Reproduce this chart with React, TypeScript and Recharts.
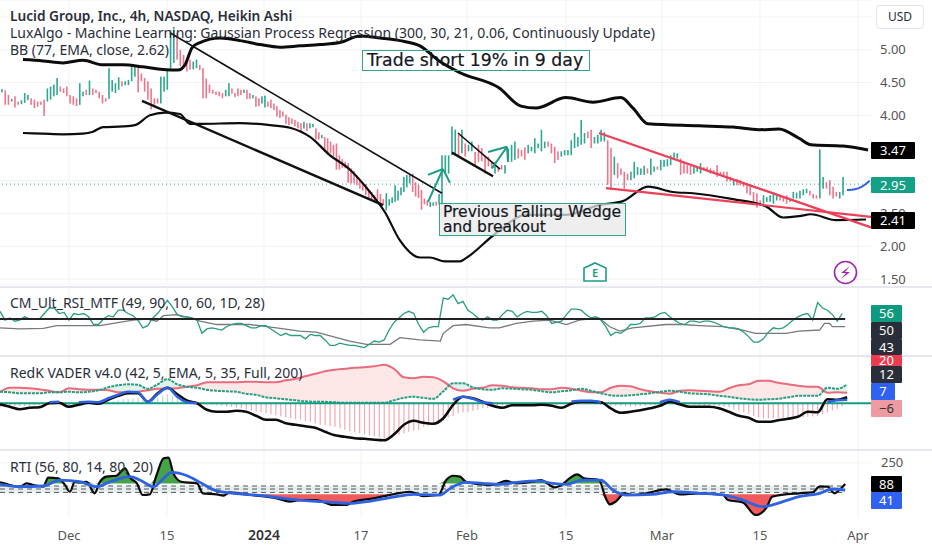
import { ComposedChart, Line, Bar, Area, XAxis, YAxis, CartesianGrid, ReferenceLine, ReferenceArea } from 'recharts';

// time axis is in trading days counted from 1 Dec
const DAY_MIN = -7.0;
const DAY_MAX = 81.42;
const timeTicks = [0, 9.95, 19.8, 29.65, 40.4, 50.45, 60.2, 70.15, 80.1];
const timeLabels = ['Dec', '15', '2024', '17', 'Feb', '15', 'Mar', '15', 'Apr'];
const priceTicks = [1.5, 2, 2.5, 3, 3.5, 4, 4.5, 5, 5.5];
const hiddenPriceLabels = [3, 3.5, 5.5]; // sit behind the price tags or the USD button

const barOpen = [
  4.35,4.38,4.31,4.21,4.29,4.21,4.17,4.19,4.23,4.26,
  4.24,4.21,4.21,4.24,4.21,4.24,4.29,4.31,4.44,4.41,
  4.44,4.31,4.29,4.26,4.16,4.29,4.39,4.31,4.41,4.39,
  4.36,4.31,4.26,4.25,4.36,4.34,4.39,4.52,4.46,4.46,
  4.52,4.59,4.75,4.64,4.57,4.52,4.41,4.26,4.26,4.18,
  4.36,4.39,4.70,4.80,5.26,5.00,4.92,4.80,4.85,4.70,
  4.72,4.77,4.72,4.56,4.47,4.39,4.36,4.36,4.34,4.29,
  4.29,4.41,4.34,4.41,4.39,4.34,4.39,4.34,4.26,4.29,
  4.26,4.18,4.12,4.21,4.24,4.18,4.14,4.08,4.06,4.01,
  3.97,3.95,3.93,3.90,3.88,3.80,3.88,3.80,3.82,3.80,
  3.74,3.65,3.67,3.65,3.60,3.55,3.57,3.39,3.33,3.29,
  3.27,3.19,3.15,3.08,3.01,2.96,2.95,2.86,2.83,2.78,
  2.87,2.80,2.72,2.55,2.62,2.66,2.68,2.70,2.78,2.83,
  2.90,2.96,3.11,2.98,2.94,2.86,2.73,2.70,2.60,2.62,
  2.68,2.64,2.63,3.11,3.11,3.39,3.39,3.70,3.42,3.57,
  3.45,3.45,3.44,3.55,3.50,3.39,3.37,3.29,3.11,3.21,
  3.24,3.11,3.29,3.29,3.32,3.49,3.47,3.51,3.42,3.45,
  3.42,3.50,3.45,3.50,3.60,3.57,3.52,3.45,3.37,3.39,
  3.39,3.39,3.50,3.52,3.55,3.57,3.75,3.78,3.57,3.57,
  3.60,3.60,3.62,3.50,3.09,3.27,3.19,3.14,3.11,3.01,
  3.04,3.09,3.09,3.09,3.19,3.09,3.14,3.22,3.16,3.21,
  3.22,3.24,3.32,3.34,3.34,3.27,3.24,3.23,3.11,3.14,
  3.11,3.21,3.21,3.19,3.16,3.24,3.14,3.14,3.14,3.06,
  2.93,3.03,3.01,2.98,2.96,2.93,2.83,2.81,2.70,2.65,
  2.68,2.68,2.65,2.70,2.78,2.76,2.78,2.68,2.73,2.73,
  2.73,2.78,2.81,2.85,2.80,2.78,2.73,2.88,2.98,3.01,
  2.91,2.83,2.73,2.78,
];
const barClose = [
  4.40,4.16,4.16,4.25,4.12,4.16,4.23,4.34,4.31,4.16,
  4.11,4.13,4.16,3.99,4.41,4.44,4.47,4.57,4.36,4.34,
  4.29,4.18,4.16,4.14,4.49,4.36,4.31,4.53,4.31,4.34,
  4.26,4.18,4.21,4.72,4.54,4.49,4.58,4.44,4.52,4.54,
  4.76,4.75,4.35,4.52,4.36,4.24,4.09,4.16,4.18,4.59,
  4.59,4.69,5.30,5.31,4.85,4.75,4.75,4.67,4.70,4.82,
  4.85,4.69,4.26,4.26,4.34,4.33,4.31,4.29,4.26,4.39,
  4.49,4.33,4.28,4.29,4.31,4.39,4.25,4.25,4.31,4.13,
  4.14,4.29,4.30,4.13,4.11,4.08,3.98,3.96,3.98,3.87,
  3.85,3.87,3.83,3.80,3.75,3.90,3.76,3.88,3.87,3.63,
  3.63,3.70,3.45,3.40,3.42,3.37,3.17,3.17,3.20,3.19,
  2.97,2.96,2.96,2.93,2.88,2.85,2.78,2.73,2.70,2.68,
  2.71,2.66,2.63,2.81,2.72,2.75,2.93,2.85,2.90,3.06,
  3.09,3.09,2.83,2.76,2.74,2.56,2.64,2.62,2.68,2.67,
  2.62,2.80,3.39,3.39,3.39,3.83,3.78,3.37,3.78,3.37,
  3.55,3.60,3.22,3.29,3.30,3.11,3.22,3.19,3.29,3.14,
  3.17,3.24,3.49,3.55,3.60,3.34,3.37,3.32,3.55,3.52,
  3.65,3.57,3.78,3.60,3.52,3.42,3.27,3.32,3.45,3.47,
  3.47,3.62,3.73,3.67,3.93,3.73,3.65,3.50,3.67,3.70,
  3.78,3.74,2.94,2.86,3.37,3.04,3.09,2.88,3.01,3.14,
  3.29,3.21,3.19,3.23,3.11,3.34,3.22,3.17,3.32,3.32,
  3.33,3.39,3.43,3.42,3.09,3.11,3.11,3.09,3.21,3.21,
  3.27,3.16,3.14,3.11,3.11,3.06,3.09,3.08,2.99,2.99,
  3.01,2.93,2.93,2.91,2.81,2.78,2.68,2.59,2.63,2.78,
  2.75,2.78,2.82,2.78,2.70,2.68,2.65,2.73,2.83,2.82,
  2.85,2.87,2.88,2.78,2.73,2.73,3.48,3.06,2.88,2.78,
  2.73,2.76,2.83,3.06,
];
// bar number -> day, where the session spacing is known
const barAnchorIndex = [0, 70, 99, 142, 263];
const barAnchorDay = [-6.8, 16.24, 25.07, 37.87, 78.58];

const upperDays = [-4.67,-2.64,-0.61,1.42,3.45,5.48,7.51,9.54,11.07,11.78,12.49,13.3,15.33,17.36,19.39,21.42,23.45,25.48,27.51,29.54,31.57,33.6,35.63,37.66,39.7,43.65,45.89,47.41,50.46,53.2,56.04,57.26,58.78,63.96,67.41,70.05,72.08,74.11,75.33,78.58,81.12];
const upperBand = [4.85,4.83,4.80,4.84,4.77,4.77,4.74,4.70,4.69,4.77,5.03,5.11,5.18,5.14,5.08,5.04,5.06,5.08,5.11,5.21,5.18,5.14,5.06,4.82,4.65,4.42,4.14,4.11,4.27,4.20,4.27,4.11,3.87,3.84,3.82,3.78,3.79,3.65,3.55,3.53,3.47];
const lowerDays = [-4.67,-2.64,-0.61,1.42,2.44,3.45,5.48,6.7,8.22,9.75,11.27,12.28,13.3,17.36,20.41,22.44,24.47,26.5,28.53,30.56,32.08,33.6,35.63,36.65,38.17,39.7,40.3,43.35,46.4,50.46,53.81,56.24,58.78,61.32,63.35,67.41,70.76,72.49,74.11,75.33,77.87,80.91];
const lowerBand = [3.73,3.72,3.71,3.72,3.75,3.82,3.83,3.85,4.00,4.04,4.02,3.87,3.87,3.88,3.85,3.81,3.67,3.39,3.17,2.83,2.52,2.09,1.83,1.83,1.77,1.77,1.82,2.20,2.48,2.48,2.63,2.69,2.91,2.83,2.81,2.72,2.61,2.44,2.46,2.49,2.40,2.41];
const forecastDays = [78.98, 79.8, 80.5, 81.3];
const forecast = [2.86, 2.87, 2.91, 3.0];
const lastPrice = 2.95;

// drawings on the price pane: [day, price] pairs
const blackThin = [[[10.25,5.26],[37.87,2.81]], [[39.49,3.73],[43.76,3.18]]];
const blackThick = [[[7.41,4.22],[31.88,2.63]], [[38.88,3.43],[43.05,3.07]]];
const redLines = [[[53.81,3.73],[81.42,2.29]], [[54.52,2.89],[81.42,2.45]]];
const tealArrows = [
  [[36.45,2.68],[37.97,3.18]], [[36.45,3.09],[37.97,3.18]], [[37.97,3.18],[38.68,2.97]],
  [[42.94,3.19],[44.47,3.52]], [[42.54,3.44],[44.47,3.52]], [[44.47,3.52],[44.57,3.29]],
];

// RSI, one reading every half day from day -7
const rsiValues = [
  57,49,51,48,49,52,50,50,50,55,60,60,55,56,49,55,54,55,52,45,
  45,50,53,52,58,58,55,53,49,42,44,51,55,61,67,61,54,52,52,51,
  49,37,41,42,41,40,43,45,46,46,44,42,42,44,44,41,38,35,37,35,
  35,35,32,36,35,35,31,26,26,28,27,26,26,25,24,27,30,29,31,40,
  47,51,55,57,55,45,38,42,43,43,69,68,72,64,66,
  58,55,51,49,52,49,49,54,58,57,52,55,57,56,56,57,53,46,47,48,
  54,59,59,58,54,51,52,49,43,35,38,37,40,45,45,46,51,51,52,55,
  56,52,49,46,45,48,48,47,48,48,47,45,43,42,42,41,38,34,29,29,
  32,38,42,41,42,45,49,52,54,55,49,65,60,58,54,48,55,
];
const rsiSlowDays = [-7,-5,-2.6,-1.25,1.45,3.15,4.5,6.5,7.9,8.9,9.6,10.9,12.3,13.3,15,16,18.4,20.1,21.8,23.4,25.1,26.8,28.5,30.2,32.6,33.6,35.6,37.7,38,39,40.3,42.7,43.7,45.4,47.1,48.8,50.5,51.8,53.8,54.9,55.9,57.2,60.6,62.3,64,66.4,68.4,69.7,70.8,72.8,74.1,76.2,76.7,77.2,77.5,78.8];
const rsiSlow = [42,41,41.5,44,44,44,46,49,50,48,53,54,51,48,45,45,45,43,41,39,38,34,30,27,27,33,31,30,37,44,45,42,42,46,48,49,45,49,51,43,39,42,45,45,44,43,40,37,37,37,39,40,46,46,43,43];
const rsiLevel = 50;

// VADER, one reading per day from day -7
const vaderRed = [23,31,31,30,28,25,22,30,28,27,27,26,22,22,23,26,29,29,30,33,36,42,42,42,42,43,43,42,42,46,49,54,59,64,67,69,71,72,74,77,69,52,50,53,52,44,30,25,29,31,36,35,32,31,30,28,28,31,29,25,22,22,31,35,34,28,24,21,19,25,26,25,24,23,30,36,38,45,45,41,38,35,33,33,21,22,21];
const vaderTeal = [23,22,20,20,20,22,22,23,22,23,26,32,36,38,37,29,38,48,38,33,31,27,25,24,23,19,17,12,10,8,6,4,3,3,2,1,1,1,1,1,6,11,13,11,9,24,40,40,32,28,27,30,29,28,27,24,22,24,26,29,25,20,16,15,16,18,20,23,25,23,20,19,18,15,13,10,8,7,8,9,12,15,15,15,31,29,38];
const vaderBlack = [-2,-7,-12,-9,-8,0,1,-7,-3,1,-1,7,15,20,20,3,20,31,18,5,0,-13,-17,-17,-15,-17,-25,-33,-33,-40,-43,-46,-49,-57,-64,-67,-70,-71,-73,-74,-62,-43,-35,-39,-41,-30,-3,13,10,3,-5,-9,-4,-4,-4,-3,-5,-9,-1,3,3,2,-10,-19,-17,-14,-10,-5,3,-2,-7,-7,-7,-10,-17,-25,-29,-37,-37,-34,-31,-27,-17,-18,8,7,12];
const vaderBlue = [null,null,null,null,null,2,3,null,2,3,2,10,17,23,22,3,18,31,13,2,0,null,null,null,null,null,null,null,null,null,null,null,null,null,null,null,null,null,null,null,null,null,null,null,null,null,7,13,9,2,0,null,null,null,null,null,null,null,3,5,5,2,null,null,null,null,null,2,7,2,null,null,null,null,null,null,null,null,null,null,null,null,null,null,2,6,7];
// histogram, one reading every half day from day -7
const vaderHist = [
  -8,-8,-7,-6,-6,-5,-5,-4,-4,-3,2,3,2,-3,-6,-5,-3,-2,-2,-3,-2,1,3,4,6,8,9,10,10,6,2,6,11,15,18,15,12,10,8,5,3,0,
  -2,-3,-4,-5,-6,-7,-8,-10,-12,-15,-16,-18,-20,-22,-24,-26,-28,-30,-32,-33,-35,-37,-40,-43,-44,-46,-47,-50,-53,-56,-58,-60,-62,-64,-66,-68,-70,-68,-65,-63,-60,-57,-55,-53,-47,-45,-42,-40,-35,-28,-25,-20,-18,
  -18,-15,-13,-10,-9,-6,-5,-4,-4,-3,-3,-3,-3,-3,-4,-4,-3,-3,-3,-2,-2,-2,-2,-2,-2,-2,-2,-3,-4,-5,-5,-5,-6,-7,-6,-5,-5,-4,-3,-2,-2,-2,-2,-1,-2,-2,-3,-4,-5,-5,-5,-6,-7,-8,-12,-15,-18,-21,-25,-28,-30,-30,-30,-30,-29,-29,-28,-28,-28,-27,-26,-25,-22,-18,-14,-11,-6,
];

const rtiDays = [-7,-6,-5,-4.3,-3.6,-2.6,-2.1,-1.1,-0.4,0.1,0.6,1.1,1.8,2.6,3.15,3.8,4.8,5.7,6.2,6.9,7.5,8.2,8.9,9.6,10.1,10.6,11.4,13,13.6,15,15.7,16.3,18.4,21.1,22.4,23.4,25.1,26.8,28.2,28.9,30.9,32.9,34.6,36,37.5,38.3,39,39.7,40.3,41.65,43,44.4,45.4,47.1,47.9,49.3,50.1,50.8,51.6,52.3,53.8,54.5,54.9,55.5,56.4,57.2,58.6,60.6,62,64,66.4,66.9,68.4,69.7,70.8,71.4,74.1,75.5,76.2,77,77.7,78.2,78.8];
const rtiValues = [100,80,67,92,80,67,136,131,80,28,105,100,105,16,105,144,151,208,136,92,3,8,157,285,290,169,105,92,16,8,-2,23,3,-23,-48,-36,-36,-74,-74,-48,-23,8,28,-5,3,118,151,144,105,87,80,111,92,105,118,62,85,131,162,131,118,-23,-69,-48,16,3,16,46,8,16,3,-36,-54,-151,-95,-10,16,23,67,67,16,41,88];
const rtiSmoothDays = [-7,-5,-2.6,-0.9,1.1,2.8,4.2,6.2,7.2,8.6,9.6,10.4,12,13.3,15,16.7,19.7,21.8,23.4,26.8,28.5,30.2,32.6,35,37.7,38.7,40.3,42,43.7,45.4,47.7,49.1,50.5,52.1,54,55.2,56.5,59.2,61.3,64,66.4,68.4,70.4,72.5,74.1,76.2,77.5,78.8];
const rtiSmooth = [85,67,72,118,105,67,105,144,118,67,131,177,151,100,34,16,-2,-23,-36,-54,-61,-48,-18,8,3,54,100,92,85,100,111,92,85,118,118,41,3,8,28,16,3,-36,-87,-48,-10,16,49,41];
const rtiLevels = [72, 49, 23];
const rtiUpperFill = 92;
const rtiLowerFill = 8;

const GREEN = '#2ea88e';
const RED = '#f0758a';
const GRID = '#f0f2f6';
const FONT = '"Noto Sans", sans-serif';
const NOTE_FONT = '"DejaVu Sans", Verdana, sans-serif';

const byDay = (days: number[], values: (number | null)[]) => values.map((v, i) => ({ x: days[i], v }));
const everyStep = (start: number, step: number, values: (number | null)[]) => values.map((v, i) => ({ x: start + i * step, v }));

const barDay = (i: number) => {
  let k = 0;
  while (k < barAnchorIndex.length - 2 && i > barAnchorIndex[k + 1]) k++;
  const t = (i - barAnchorIndex[k]) / (barAnchorIndex[k + 1] - barAnchorIndex[k]);
  return barAnchorDay[k] + t * (barAnchorDay[k + 1] - barAnchorDay[k]);
};
const candleRows = barOpen.map((o, i) => ({
  x: barDay(i),
  up: barClose[i] >= o,
  range: [Math.min(o, barClose[i]), Math.max(o, barClose[i])],
}));
const histRows = everyStep(-7, 0.5, vaderHist);
const vaderFillRows = vaderRed.map((r, i) => ({
  x: -7 + i,
  pink: [vaderTeal[i], Math.max(r, vaderTeal[i])],
  mint: [r, Math.max(r, vaderTeal[i])],
}));
const rtiRows = rtiValues.map((v, i) => ({
  x: rtiDays[i],
  v,
  over: [rtiUpperFill, Math.max(v, rtiUpperFill)],
  under: [Math.min(v, rtiLowerFill), rtiLowerFill],
}));

const Candle = (p: any) => (
  <rect x={p.x + p.width / 2 - 0.8} y={Math.min(p.y, p.y + p.height)} width={1.6} height={Math.max(Math.abs(p.height), 1)} fill={p.payload.up ? GREEN : RED} />
);
const HistStick = (p: any) => (
  <rect
    x={p.x + p.width / 2 - 0.6}
    y={Math.min(p.y, p.y + p.height)}
    width={1.2}
    height={Math.abs(p.height)}
    fill={p.payload.v >= 0 ? '#b9ddd3' : '#f2a9b2'}
  />
);

const segments = (list: number[][][], color: string, width: number) =>
  list.map((s, i) => (
    <ReferenceLine
      key={color + width + i}
      segment={[{ x: s[0][0], y: s[0][1] }, { x: s[1][0], y: s[1][1] }]}
      stroke={color}
      strokeWidth={width}
    />
  ));

const timeAxis = (show: boolean) => (
  <XAxis
    type="number"
    dataKey="x"
    domain={[DAY_MIN, DAY_MAX]}
    ticks={timeTicks}
    allowDataOverflow
    hide={!show}
    height={show ? 32 : 0}
    axisLine={false}
    tickLine={false}
    interval={0}
    tick={(p: any) => {
      const i = timeTicks.indexOf(p.payload.value);
      const bold = timeLabels[i] === '2024';
      return (
        <text x={p.x} y={p.y + 14} textAnchor="middle" fontSize={bold ? 14 : 13} fontWeight={bold ? 600 : 400} fill={bold ? '#333' : '#555'} fontFamily={FONT}>
          {timeLabels[i]}
        </text>
      );
    }}
  />
);

const Tag = ({ top, h, w = 31, bg, color = '#fff', children }: any) => (
  <div style={{ position: 'absolute', left: 871, top, width: w, height: h, background: bg, color, fontSize: 13, lineHeight: h + 'px', textAlign: 'center', overflow: 'hidden', fontFamily: FONT, borderRadius: 1 }}>
    {children}
  </div>
);
const Legend = ({ top, bold, children }: any) => (
  <div style={{ position: 'absolute', left: 10, top, fontSize: bold ? 13.7 : 14, lineHeight: '18px', color: '#2a2e39', fontWeight: bold ? 600 : 400, fontFamily: FONT, whiteSpace: 'nowrap' }}>
    {children}
  </div>
);
const Divider = ({ top }: any) => (
  <div style={{ position: 'absolute', left: 0, top, width: 932, height: 2, background: '#e6e8ee' }} />
);

export default function App() {
  const common = { width: 932, margin: { top: 0, right: 0, bottom: 0, left: 0 } };
  const lineProps = { dataKey: 'v', dot: false, isAnimationActive: false, type: 'linear' as const, activeDot: false };
  const smooth = { ...lineProps, type: 'monotone' as const };
  return (
    <div style={{ position: 'absolute', left: 0, top: 0, width: 932, height: 550, background: '#fff', overflow: 'hidden' }}>
      <div style={{ position: 'absolute', left: 0, top: 0 }}>
        <ComposedChart {...common} height={285} data={candleRows}>
          <CartesianGrid stroke={GRID} verticalValues={timeTicks} />
          {timeAxis(false)}
          <YAxis
            orientation="right"
            width={61}
            domain={[1.41, 5.76]}
            ticks={priceTicks}
            interval={0}
            allowDataOverflow
            axisLine={false}
            tickLine={false}
            tickSize={0}
            tickMargin={9}
            tickFormatter={(v: number) => (hiddenPriceLabels.includes(v) ? '' : v.toFixed(2))}
            tick={{ fontSize: 13, fill: '#555', fontFamily: FONT }}
          />
          <ReferenceLine y={lastPrice} stroke="#2ea88e" strokeDasharray="1 3" strokeWidth={1} />
          <Bar dataKey="range" barSize={2} shape={Candle} isAnimationActive={false} />
          <Line {...smooth} data={byDay(upperDays, upperBand)} stroke="#0c0c0c" strokeWidth={3} />
          <Line {...smooth} data={byDay(lowerDays, lowerBand)} stroke="#0c0c0c" strokeWidth={2.2} />
          <Line {...smooth} data={byDay(forecastDays, forecast)} stroke="#2f62e0" strokeWidth={2} />
          {segments(blackThin, '#111', 1.6)}
          {segments(blackThick, '#111', 2.4)}
          {segments(redLines, '#ea4158', 2.2)}
          {segments(tealArrows, '#1f9d84', 2)}
        </ComposedChart>
      </div>

      <div style={{ position: 'absolute', left: 0, top: 287 }}>
        <ComposedChart {...common} height={68} data={everyStep(-7, 0.5, rsiValues)}>
          <CartesianGrid stroke={GRID} verticalValues={timeTicks} horizontal={false} />
          {timeAxis(false)}
          <YAxis orientation="right" width={61} domain={[17.3, 79.1]} ticks={[]} axisLine={false} tickLine={false} allowDataOverflow />
          <Line {...lineProps} data={byDay(rsiSlowDays, rsiSlow)} stroke="#77797d" strokeWidth={1.3} />
          <Line {...lineProps} stroke="#2a9d80" strokeWidth={1.3} />
          <ReferenceLine segment={[{ x: DAY_MIN, y: rsiLevel }, { x: 78.8, y: rsiLevel }]} stroke="#222" strokeWidth={1.8} />
        </ComposedChart>
      </div>

      <div style={{ position: 'absolute', left: 0, top: 356 }}>
        <ComposedChart {...common} height={93} data={histRows}>
          <CartesianGrid stroke={GRID} verticalValues={timeTicks} horizontal={false} />
          {timeAxis(false)}
          <YAxis orientation="right" width={61} domain={[-91.4, 94.6]} ticks={[]} axisLine={false} tickLine={false} allowDataOverflow />
          <Area data={vaderFillRows} dataKey="pink" type="monotone" stroke="none" fill="#fde7e7" fillOpacity={1} isAnimationActive={false} activeDot={false} dot={false} />
          <Area data={vaderFillRows} dataKey="mint" type="monotone" stroke="none" fill="#dff2ec" fillOpacity={1} isAnimationActive={false} activeDot={false} dot={false} />
          <Bar dataKey="v" barSize={1} shape={HistStick} isAnimationActive={false} />
          <Line {...smooth} data={everyStep(-7, 1, vaderRed)} stroke="#ea6b7c" strokeWidth={2} />
          <Line {...smooth} data={everyStep(-7, 1, vaderTeal)} stroke="#2a9d80" strokeWidth={2} strokeDasharray="3 1" />
          <ReferenceLine y={0} stroke="#129c83" strokeWidth={2} />
          <Line {...smooth} data={everyStep(-7, 1, vaderBlack)} stroke="#0c0c0c" strokeWidth={2.6} />
          <Line {...smooth} data={everyStep(-7, 1, vaderBlue)} stroke="#2f62e0" strokeWidth={2.6} />
        </ComposedChart>
      </div>

      <div style={{ position: 'absolute', left: 0, top: 450 }}>
        <ComposedChart {...common} height={100} data={rtiRows}>
          <CartesianGrid stroke={GRID} verticalValues={timeTicks} horizontalValues={[250]} />
          {timeAxis(true)}
          <YAxis
            orientation="right"
            width={61}
            domain={[-174, 349]}
            ticks={[250]}
            allowDataOverflow
            axisLine={false}
            tickLine={false}
            tickSize={0}
            tickMargin={10}
            tick={{ fontSize: 13, fill: '#555', fontFamily: FONT }}
          />
          <ReferenceArea x1={DAY_MIN} x2={78.8} y1={rtiLevels[2]} y2={rtiLevels[0]} fill="#e6eff0" fillOpacity={1} stroke="none" />
          {rtiLevels.map((level) => (
            <ReferenceLine key={level} segment={[{ x: DAY_MIN, y: level }, { x: 78.8, y: level }]} stroke="#555" strokeDasharray="5 4" strokeWidth={1} />
          ))}
          <Area dataKey="over" type="monotone" stroke="none" fill="#45a34a" fillOpacity={1} isAnimationActive={false} activeDot={false} dot={false} />
          <Area dataKey="under" type="monotone" stroke="none" fill="#f05a5a" fillOpacity={1} isAnimationActive={false} activeDot={false} dot={false} />
          <Line {...smooth} stroke="#0c0c0c" strokeWidth={2.2} />
          <Line {...smooth} data={byDay(rtiSmoothDays, rtiSmooth)} stroke="#2f62e0" strokeWidth={2.8} />
        </ComposedChart>
      </div>

      <Divider top={286} />
      <Divider top={355} />
      <Divider top={449} />

      <Legend top={7} bold>Lucid Group, Inc., 4h, NASDAQ, Heikin Ashi</Legend>
      <Legend top={24}>LuxAlgo - Machine Learning: Gaussian Process Regression (300, 30, 21, 0.06, Continuously Update)</Legend>
      <Legend top={41}>BB (77, EMA, close, 2.62)</Legend>
      <Legend top={294}>CM_Ult_RSI_MTF (49, 90, 10, 60, 1D, 28)</Legend>
      <Legend top={364}>RedK VADER v4.0 (42, 5, EMA, 5, 35, Full, 200)</Legend>
      <Legend top={458}>RTI (56, 80, 14, 80, 20)</Legend>

      <div style={{ position: 'absolute', left: 362, top: 50, width: 228, height: 21, boxSizing: 'border-box', border: '1.5px solid #2ea88e', fontFamily: NOTE_FONT, fontSize: 17.3, lineHeight: '18px', color: '#131722', paddingLeft: 4, whiteSpace: 'nowrap', WebkitTextStroke: '0.2px #131722' }}>
        Trade short 19% in 9 day
      </div>
      <div style={{ position: 'absolute', left: 439, top: 203, width: 187, height: 33, boxSizing: 'border-box', border: '1.5px solid #2ea88e', background: 'rgba(232,232,232,0.75)', fontFamily: NOTE_FONT, fontSize: 15.5, lineHeight: '15px', color: '#131722', padding: '1px 0 0 3px', whiteSpace: 'nowrap', WebkitTextStroke: '0.2px #131722' }}>
        Previous Falling Wedge<br />and breakout
      </div>

      <div style={{ position: 'absolute', left: 876, top: 5, width: 48, height: 24, boxSizing: 'border-box', border: '1px solid #e0e3eb', borderRadius: 4, fontFamily: FONT, fontSize: 12, lineHeight: '22px', textAlign: 'center', color: '#2a2e39' }}>USD</div>

      <svg style={{ position: 'absolute', left: 0, top: 0 }} width={932} height={550} pointerEvents="none">
        <path d="M584 268 L595 263 L606 268 L606 281 L584 281 Z" fill="#fff" stroke="#1f9d84" strokeWidth={1.6} />
        <text x={595} y={277} textAnchor="middle" fontSize={11} fontWeight={600} fill="#1f9d84" fontFamily={FONT}>E</text>
        <circle cx={845.5} cy={272.5} r={11} fill="#fff" stroke="#9c27b0" strokeWidth={1.6} />
        <path d="M850 266 L841 273 L846 273 L841 279 L850 272 L845 272 Z" fill="#9c27b0" />
      </svg>

      <Tag top={142} h={17} w={44} bg="#000">3.47</Tag>
      <Tag top={177} h={16} w={44} bg="#13a085">2.95</Tag>
      <Tag top={212} h={17} w={44} bg="#000">2.41</Tag>
      <Tag top={305} h={17} bg="#0d9a7e">56</Tag>
      <Tag top={322} h={17} bg="#2a2e39">50</Tag>
      <Tag top={339} h={16} bg="#2a2e39">43</Tag>
      <Tag top={355} h={11} bg="#ee3b4e">20</Tag>
      <Tag top={366} h={17} bg="#2a2e39">12</Tag>
      <Tag top={383} h={17} w={24} bg="#2f62f0">7</Tag>
      <Tag top={400} h={17} bg="#ee9aa2" color="#333">−6</Tag>
      <Tag top={476} h={16} bg="#000">88</Tag>
      <Tag top={492} h={17} bg="#2f62f0">41</Tag>
    </div>
  );
}
